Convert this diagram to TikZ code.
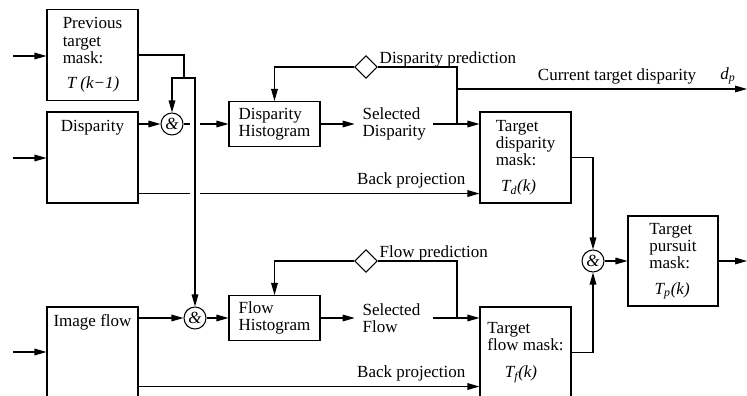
\documentclass[tikz,border=0pt]{standalone}
\usepackage{fontspec}
\setmainfont{Liberation Serif}
\usetikzlibrary{shapes.geometric, arrows.meta, positioning, calc}

\begin{document}
\begin{tikzpicture}[
	        x=0.75pt, y=-0.75pt,
	        font=\fontsize{12.75pt}{13pt}\selectfont,
	        line width=0.8pt,
	        block/.style={
	            draw,
	            align=left,
	            minimum width=68.25pt,
	            minimum height=68.25pt,
	            inner sep=2pt
	        },
	        histbox/.style={block, minimum height=33.75pt},
	        toplbl/.style={anchor=north, inner sep=6pt},
	        andgate/.style={
	            draw, circle,
	            minimum size=16.5pt,
	            inner sep=0pt,
	            font=\fontsize{12.75pt}{13pt}\selectfont\itshape
	        },
	        predict/.style={
	            draw, diamond,
	            minimum width=17pt,
	            minimum height=17pt,
	            inner sep=0pt
	        },
	        predlbl/.style={anchor=base west, inner sep=1pt, yshift=3pt},
	        seltext/.style={align=left, text width=47pt, inner xsep=5.6pt},
	        sig/.style={-{Triangle[length=9pt, width=5pt]}},
	        bridge/.style={preaction={draw=white, line width=7pt, arrows=-, shorten >=4pt}}
	    ]
	        \useasboundingbox (0,0) rectangle (747,396);

	        % left column
	        \node[block] (prevmask) at (92.5,55) {Previous\\target\\mask:\\[6pt]\hspace{3pt}\textit{T (k−1)}};
	        \node[block, label={[toplbl]north:Disparity}] (disp) at (92.5,157.5) {};
	        \node[block, label={[toplbl]north:Image flow}] (imgflow) at (92.5,352.5) {};

	        % histograms
	        \node[andgate] (and1) at (172,124) {\&};
	        \node[andgate] (and2) at (195,318) {\&};
	        \node[histbox] (dhist) at (274.5,124) {Disparity\\Histogram};
	        \node[histbox] (fhist) at (274.5,318) {Flow\\Histogram};
	        \node[seltext] (dsel) at (394,124) {Selected\\Disparity};
	        \node[seltext] (fsel) at (394,318) {Selected\\Flow};
	        \node[predict, label={[predlbl]east:Disparity prediction}] (dpred) at (366,67) {};
	        \node[predict, label={[predlbl]east:Flow prediction}] (fpred) at (366,261) {};

	        % masks
	        \node[block] (tdmask) at (525.5,157.5) {Target\\disparity\\mask:\\[6pt]\hspace{4pt}\textit{T\textsubscript{d}(k)}};
	        \node[block] (tfmask) at (525.5,352.5) {Target\\flow mask:\\[7pt]\hspace{13pt}\textit{T\textsubscript{f}(k)}};
	        \node[andgate] (and3) at (593,261) {\&};
	        \node[block, minimum width=67.5pt, minimum height=67.5pt] (tpmask) at (673,261) {Target\\pursuit\\mask:\\[6pt]\hspace{4pt}\textit{T\textsubscript{p}(k)}};

	        \coordinate (in1) at (13,56);
	        \coordinate (in2) at (13,158);
	        \coordinate (in3) at (13,352);
	        \coordinate (split) at (184,78);
	        \coordinate (dtap) at (457,124);
	        \coordinate (ftap) at (457,318);
	        \coordinate (dout) at (747,89);
	        \coordinate (tpout) at (747,261);

	        % inputs
	        \draw[sig] (in1) -- (in1 -| prevmask.west);
	        \draw[sig] (in2) -- (in2 -| disp.west);
	        \draw[sig] (in3) -- (in3 -| imgflow.west);

	        % disparity branch
	        \draw[sig] (disp.east |- and1) -- (and1);
	        \draw[sig] (and1) -- (dhist);
	        \draw[sig] ([yshift=7.5pt]disp.south east) -- node[above, pos=0.8] (bpd) {Back projection} ([yshift=7.5pt]tdmask.south west);

	        % flow branch
	        \draw[sig] (imgflow.east |- and2) -- (and2);
	        \draw[sig] (and2) -- (fhist);
	        \draw[sig] ([yshift=9pt]imgflow.south east) -- node[above, pos=0.8] (bpf) {Back projection} ([yshift=9pt]tfmask.south west);

	        % previous mask to both gates
	        \draw[sig, bridge] (split) -| (and2);
	        \draw (prevmask.east) -| (split);
	        \draw[sig] (split) -| (and1);

	        % selection and prediction loops
	        \draw[sig] (dhist) -- (dsel);
	        \draw[sig] (dsel) -- (dsel -| tdmask.west);
	        \draw (dtap) |- (dpred);
	        \draw[sig] (dpred) -| (dhist);
	        \draw[sig] (dtap |- dout) -- node[above, pos=0.552] (ctd) {Current target disparity} node[above, pos=0.934] (dp) {\textit{d\textsubscript{p}}} (dout);

	        \draw[sig] (fhist) -- (fsel);
	        \draw[sig] (fsel) -- (fsel -| tfmask.west);
	        \draw (ftap) |- (fpred);
	        \draw[sig] (fpred) -| (fhist);

	        % pursuit mask
	        \draw[sig] (tdmask.east) -| (and3);
	        \draw[sig] (tfmask.east) -| (and3);
	        \draw[sig] (and3) -- (tpmask);
	        \draw[sig] (tpmask.east) -- (tpout);
	    \end{tikzpicture}
\end{document}
